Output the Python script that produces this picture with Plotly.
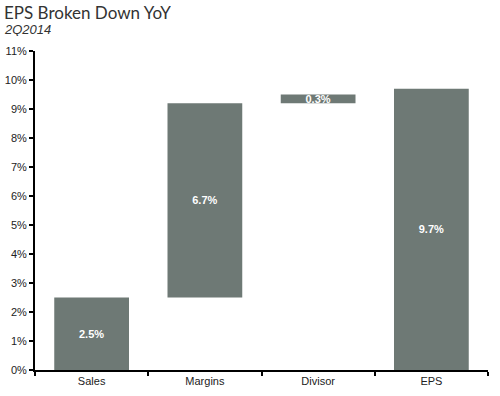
import plotly.graph_objects as go

categories = ["Sales", "Margins", "Divisor", "EPS"]
values = [2.5, 6.7, 0.3, 9.7]
is_total = [False, False, False, True]
y_ticks = list(range(0, 12))

bases = []
running = 0.0
for v, tot in zip(values, is_total):
    if tot:
        bases.append(0.0)
    else:
        bases.append(running)
        running += v

bar_color = "#6E7975"
tick_font = dict(family="Liberation Sans, Arial, sans-serif", size=11, color="#222")

fig = go.Figure()
fig.add_trace(go.Bar(
    x=categories,
    y=values,
    base=bases,
    marker=dict(color=bar_color, line=dict(width=0)),
    width=0.66,
    text=[f"{v:.1f}%" for v in values],
    textposition="inside",
    insidetextanchor="middle",
    constraintext="none",
    textfont=dict(family="Liberation Sans, Arial, sans-serif", size=11, color="white", weight="bold"),
    hoverinfo="skip",
))

fig.update_layout(
    width=500, height=396,
    margin=dict(l=35, r=12, t=51, b=26, autoexpand=False),
    paper_bgcolor="white", plot_bgcolor="white",
    showlegend=False,
    xaxis=dict(
        automargin=False,
        showline=True, linecolor="black", linewidth=2,
        ticks="outside", tickson="boundaries", ticklen=4, tickwidth=1.5, tickcolor="black",
        tickfont=tick_font,
        showgrid=False, zeroline=False,
    ),
    yaxis=dict(
        automargin=False,
        range=[0, 11], tickvals=y_ticks, ticktext=[f"{t}%" for t in y_ticks],
        showline=True, linecolor="black", linewidth=2,
        ticks="outside", ticklen=4, tickwidth=1.5, tickcolor="black",
        tickfont=tick_font,
        showgrid=False, zeroline=False,
    ),
    annotations=[
        dict(text="EPS Broken Down YoY", xref="paper", yref="paper",
             x=-0.072, y=1.121, xanchor="left", yanchor="middle", showarrow=False,
             height=18,
             font=dict(family="Lato, sans-serif", size=17, color="#333333")),
        dict(text="<i>2Q2014</i>", xref="paper", yref="paper",
             x=-0.072, y=1.068, xanchor="left", yanchor="middle", showarrow=False,
             height=14,
             font=dict(family="Liberation Sans, Arial, sans-serif", size=13, color="#333333")),
    ],
)

fig.write_html(
    "out.html",
    config={"displayModeBar": False},
    post_script="document.body.style.margin='0';document.body.style.overflow='hidden';",
)
